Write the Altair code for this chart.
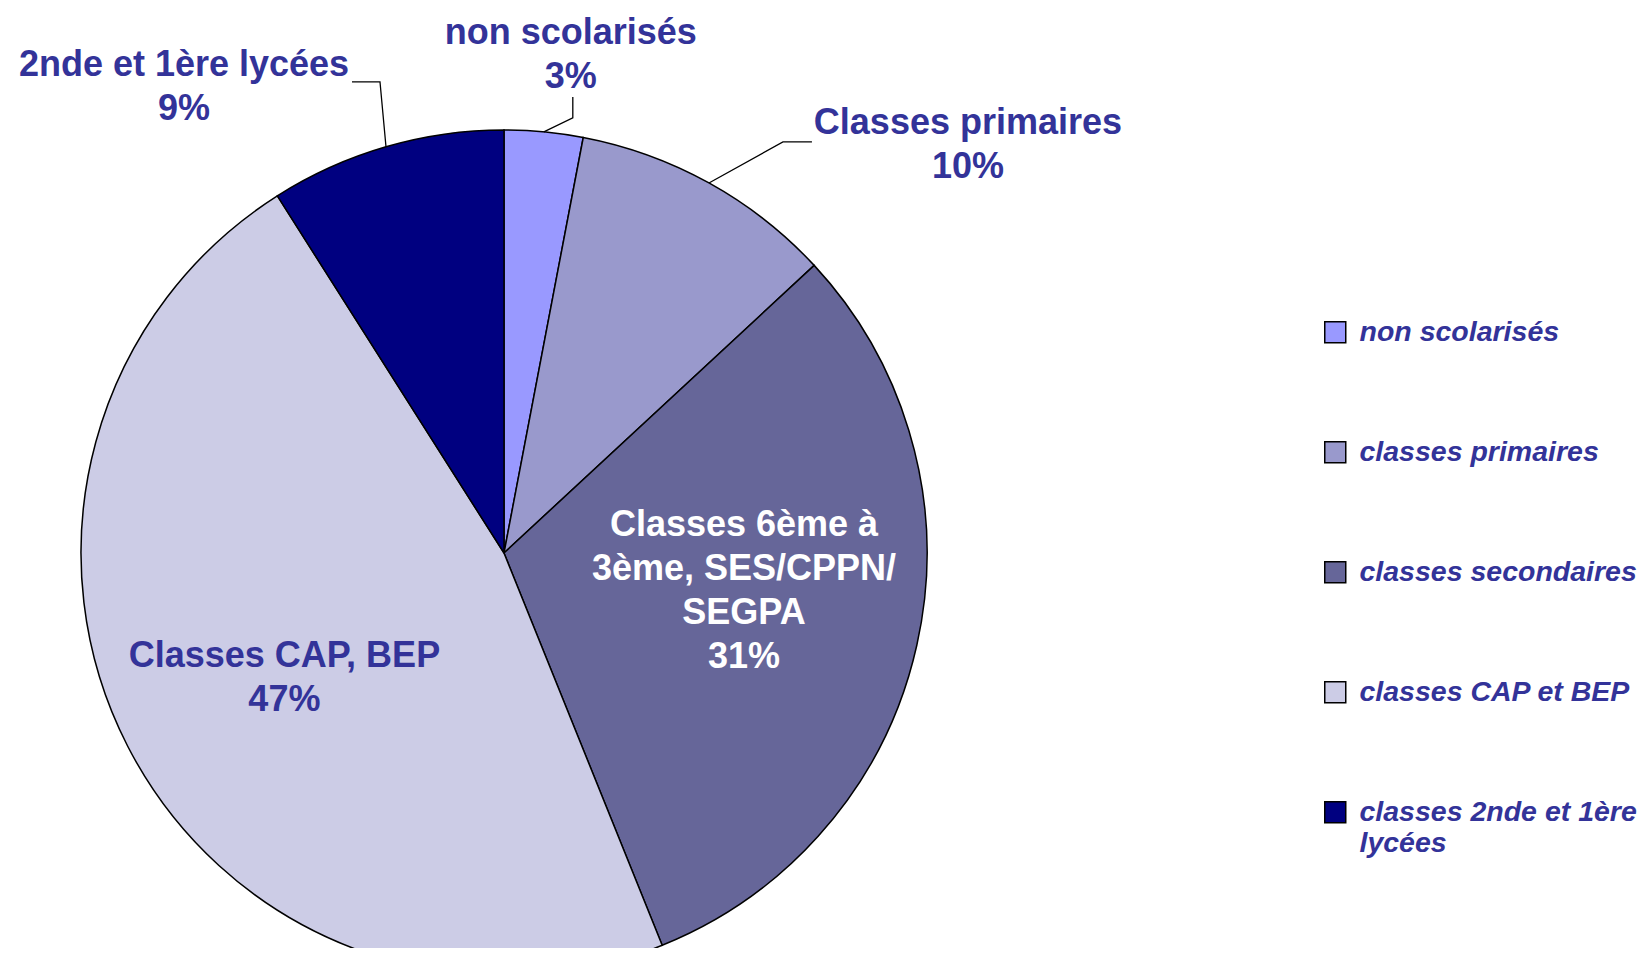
import altair as alt
import numpy as np
import pandas as pd

# ---------------- data ----------------
categories = ["non scolarisés", "classes primaires", "classes secondaires",
              "classes CAP et BEP", "classes 2nde et 1ère lycées"]
values = [3.0, 10.1, 30.8, 47.1, 9.0]
slice_names = ["non scolarisés", "Classes primaires",
               "Classes 6ème à\n3ème, SES/CPPN/\nSEGPA", "Classes CAP, BEP",
               "2nde et 1ère lycées"]
pct_labels = ["3%", "10%", "31%", "47%", "9%"]
colors = ["#9999FF", "#9999CC", "#666699", "#CCCCE6", "#000080"]

# ---------------- layout ----------------
W, H = 1632, 940
CX, CY, R = 496, 545, 423
INNER_R = 248
TEXT = "#333399"
FONT = "Liberation Sans"
FS = 36
LH = 44
# inside labels: nudge from the radial anchor point
inside = {
    "classes secondaires": ((-2, -16), "white"),
    "classes CAP et BEP": ((1, 12), TEXT),
}
# outside callouts: elbow offset, end offset, label-centre offset (each relative to previous point)
callouts = {
    "non scolarisés": ((29, -14), (0, -21), (-2, -41.5)),
    "classes primaires": ((74, -41), (29, 0), (156, 3)),
    "classes 2nde et 1ère lycées": ((-6, -65), (-28, 0), (-168, 5)),
}

labels = [s + "\n" + p for s, p in zip(slice_names, pct_labels)]
df = pd.DataFrame({
    "cat": categories,
    "value": values,
    "order": list(range(len(categories))),
})

vals = np.array(values)
mids = (np.cumsum(vals) - vals / 2) / vals.sum() * 2 * np.pi
line_rows, lab_rows = [], []
for i, cat in enumerate(categories):
    nlines = labels[i].count("\n") + 1
    if cat in inside:
        (nx, ny), col = inside[cat]
        cx = CX + INNER_R * np.sin(mids[i]) + nx
        cy = CY - INNER_R * np.cos(mids[i]) + ny
    else:
        e, f, l = callouts[cat]
        x0, y0 = CX + R * np.sin(mids[i]), CY - R * np.cos(mids[i])
        x1, y1 = x0 + e[0], y0 + e[1]
        x2, y2 = x1 + f[0], y1 + f[1]
        for k, (px, py) in enumerate([(x0, y0), (x1, y1), (x2, y2)]):
            line_rows.append({"cat": cat, "k": k, "px": px, "py": py})
        cx, cy = x2 + l[0], y2 + l[1]
        col = TEXT
    lab_rows.append({"cat": cat, "px": cx, "py": cy - (nlines - 1) * LH / 2,
                     "text": labels[i], "col": col})
lines_df = pd.DataFrame(line_rows)
labs_df = pd.DataFrame(lab_rows)

color = alt.Color(
    "cat:N",
    sort=categories,
    scale=alt.Scale(domain=categories, range=colors),
    legend=alt.Legend(
        title=None, orient="none", legendX=1313, legendY=310, padding=0,
        symbolType="square", symbolSize=441, symbolStrokeColor="black",
        symbolStrokeWidth=1.5, symbolOpacity=1,
        labelFont=FONT, labelFontSize=28.5, labelFontStyle="italic",
        labelFontWeight="bold", labelColor=TEXT, labelOffset=10,
        labelLimit=500, rowPadding=91,
        labelExpr="datum.label == 'classes 2nde et 1ère lycées' ? ['classes 2nde et 1ère', 'lycées'] : datum.label",
    ),
)

pie = alt.Chart(df).mark_arc(stroke="black", strokeWidth=1.5, radius=R).encode(
    theta=alt.Theta("value:Q", stack=True),
    order=alt.Order("order:Q"),
    color=color,
    x=alt.value(CX),
    y=alt.value(CY),
)

leaders = alt.Chart(lines_df).mark_line(color="black", strokeWidth=1.3).encode(
    x=alt.X("px:Q", scale=None, axis=None),
    y=alt.Y("py:Q", scale=None, axis=None),
    detail="cat:N",
    order="k:Q",
)

texts = alt.Chart(labs_df).mark_text(
    font=FONT, fontSize=FS, fontWeight="bold",
    lineBreak="\n", lineHeight=LH, align="center", baseline="middle",
).encode(
    x=alt.X("px:Q", scale=None, axis=None),
    y=alt.Y("py:Q", scale=None, axis=None),
    text="text:N",
    color=alt.Color("col:N", scale=None),
)

chart = alt.layer(pie, leaders, texts).properties(
    width=W, height=H,
    autosize=alt.AutoSizeParams(type="none"),
    padding=0,
    background="white",
).configure_view(stroke=None)

chart.save("out.html", embed_options={"renderer": "svg", "actions": False})
